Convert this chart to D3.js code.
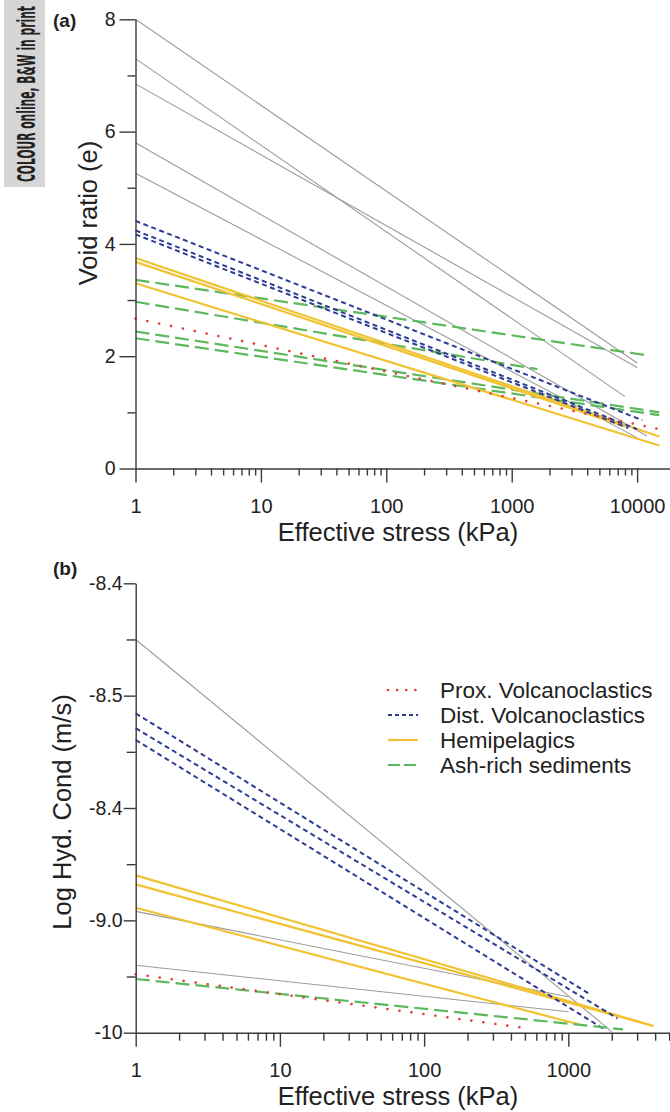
<!DOCTYPE html>
<html><head><meta charset="utf-8">
<script src="https://cdn.jsdelivr.net/npm/d3@7"></script>
<style>
body{margin:0;background:#fff}
svg{display:block}
text{font-family:"Liberation Sans",Arial,Helvetica,sans-serif;fill:#222}
</style>
</head><body>
<svg id="chart" width="670" height="1112"></svg>
<script>
// ---------------- DATA ----------------
// Panel (a): void ratio vs effective stress. Each line: value at 1 kPa, end stress, value at end stress
const xTickValsA = [1, 10, 100, 1000, 10000];
const yTickValsA = [0, 2, 4, 6, 8];
const yTickLabelsA = ["0", "2", "4", "6", "8"];

const greyA_start = [8.0, 7.30, 6.85, 5.80, 5.26];
const greyA_endStress = [10000, 8000, 10000, 12000, 10000];
const greyA_end = [1.88, 1.28, 1.80, 0.58, 0.55];

const blueA_start = [4.41, 4.24, 4.17];
const blueA_endStress = [11000, 10000, 8500];
const blueA_end = [0.86, 0.70, 0.72];

const yellowA_start = [3.75, 3.68, 3.30];
const yellowA_endStress = [15000, 8000, 15000];
const yellowA_end = [0.57, 0.75, 0.41];

const greenA_start = [3.36, 2.97, 2.44, 2.32];
const greenA_endStress = [11750, 1600, 15000, 15000];
const greenA_end = [2.02, 1.77, 1.00, 0.95];

const redA_start = [2.67];
const redA_endStress = [17500];
const redA_end = [0.67];

// Panel (b): log hydraulic conductivity vs effective stress
const xTickValsB = [1, 10, 100, 1000];
const yTickValsB = [-8, -8.5, -9, -9.5, -10];
const yTickLabelsB = ["-8.4", "-8.5", "-8.4", "-9.0", "-10"];

const greyB_start = [-8.25, -9.46, -9.70];
const greyB_endStress = [2000, 1000, 1000];
const greyB_end = [-9.995, -9.84, -9.907];

const blueB_start = [-8.579, -8.645, -8.697];
const blueB_endStress = [1380, 2190, 1800];
const blueB_end = [-9.825, -9.936, -9.987];

const yellowB_start = [-9.30, -9.34, -9.444];
const yellowB_endStress = [3900, 3900, 1230];
const yellowB_end = [-9.97, -9.97, -9.966];

const greenB_start = [-9.761];
const greenB_endStress = [2400];
const greenB_end = [-9.985];

const redB_start = [-9.74];
const redB_endStress = [510];
const redB_end = [-9.98];

const legendLabels = ["Prox. Volcanoclastics", "Dist. Volcanoclastics", "Hemipelagics", "Ash-rich sediments"];
const legendKeys = ["red", "blue", "yellow", "green"];

// ---------------- STYLES ----------------
const styles = {
  grey:   {stroke: "#9b9b9b", width: 1.1, dash: null, cap: "butt"},
  blue:   {stroke: "#2e3d94", width: 2, dash: "5,3.5", cap: "butt"},
  yellow: {stroke: "#f1c232", width: 2.2, dash: null, cap: "butt"},
  green:  {stroke: "#5cb85c", width: 2.2, dash: "14,6", cap: "butt"},
  red:    {stroke: "#e0403a", width: 2.6, dash: "0.1,12", cap: "round"}
};

const svg = d3.select("#chart");

function buildSeries(starts, endStress, ends) {
  return starts.map((s, i) => [[1, s], [endStress[i], ends[i]]]);
}

function minorTicks(maxV) {
  const t = [];
  for (let d = 1; d <= maxV; d *= 10)
    for (let k = 2; k <= 9; k++) if (d * k <= maxV) t.push(d * k);
  return t;
}

function drawPanel(cfg) {
  const g = svg.append("g");
  const x = d3.scaleLog().domain(cfg.xDomain).range(cfg.xRange);
  const y = d3.scaleLinear().domain(cfg.yDomain).range(cfg.yRange);
  const line = d3.line().x(d => x(d[0])).y(d => y(d[1]));

  cfg.series.forEach(s => {
    const st = styles[s.key];
    g.append("g").selectAll("path").data(s.data).join("path")
      .attr("d", line)
      .attr("fill", "none")
      .attr("stroke", st.stroke)
      .attr("stroke-width", st.width)
      .attr("stroke-linecap", st.cap)
      .attr("stroke-dasharray", st.dash);
  });

  const xMinor = d3.axisBottom(x).tickValues(minorTicks(cfg.xDomain[1])).tickSize(cfg.xMinorLen).tickFormat("");
  const gxm = g.append("g").attr("transform", `translate(0,${cfg.yRange[0]})`).call(xMinor);
  gxm.select(".domain").remove();
  const xMajor = d3.axisBottom(x).tickValues(cfg.xTicks).tickSize(cfg.xMajorLen).tickSizeOuter(0)
    .tickPadding(cfg.xPad).tickFormat(d3.format("d"));
  const gx = g.append("g").attr("transform", `translate(0,${cfg.yRange[0]})`).call(xMajor);
  gx.selectAll("text").style("font-size", cfg.xFont + "px").attr("fill", "#222");

  const yMinor = d3.axisLeft(y).tickValues(cfg.yMinor).tickSize(cfg.yMinorLen).tickFormat("");
  const gym = g.append("g").attr("transform", `translate(${cfg.xRange[0]},0)`).call(yMinor);
  gym.select(".domain").remove();
  const yMajor = d3.axisLeft(y).tickValues(cfg.yTicks).tickSize(cfg.yMajorLen).tickSizeOuter(0)
    .tickPadding(cfg.yPad).tickFormat((d, i) => cfg.yLabels[i]);
  const gy = g.append("g").attr("transform", `translate(${cfg.xRange[0]},0)`).call(yMajor);
  gy.selectAll("text").style("font-size", cfg.yFont + "px").attr("fill", "#222");

  g.selectAll(".domain, .tick line").attr("stroke", "#3a3a3a").attr("stroke-width", 1.4);

  g.append("text").attr("x", cfg.xTitlePos[0]).attr("y", cfg.xTitlePos[1])
    .attr("text-anchor", "middle").style("font-size", "25.5px").text("Effective stress (kPa)");
  g.append("text").attr("transform", `translate(${cfg.yTitlePos[0]},${cfg.yTitlePos[1]}) rotate(-90)`)
    .attr("text-anchor", "middle").style("font-size", "25.5px").text(cfg.yTitle);
  g.append("text").attr("x", cfg.tagPos[0]).attr("y", cfg.tagPos[1])
    .style("font-size", "19px").style("font-weight", "bold").text(cfg.tag);
  return {g, x, y};
}

drawPanel({
  xDomain: [1, 18290], xRange: [135.5, 670],
  yDomain: [0, 8], yRange: [468.5, 19.3],
  xTicks: xTickValsA, yTicks: yTickValsA, yLabels: yTickLabelsA, yMinor: [1, 3, 5, 7],
  xMajorLen: 14, xMinorLen: 7, yMajorLen: 16, yMinorLen: 8,
  xPad: 16, yPad: 4, xFont: 20, yFont: 19.5,
  xTitlePos: [398, 541], yTitlePos: [97, 213], yTitle: "Void ratio (e)",
  tagPos: [53, 27], tag: "(a)",
  series: [
    {key: "grey", data: buildSeries(greyA_start, greyA_endStress, greyA_end)},
    {key: "green", data: buildSeries(greenA_start, greenA_endStress, greenA_end)},
    {key: "yellow", data: buildSeries(yellowA_start, yellowA_endStress, yellowA_end)},
    {key: "blue", data: buildSeries(blueA_start, blueA_endStress, blueA_end)},
    {key: "red", data: buildSeries(redA_start, redA_endStress, redA_end)}
  ]
});

drawPanel({
  xDomain: [1, 5070], xRange: [135.7, 670],
  yDomain: [-10, -8], yRange: [1032.7, 583.3],
  xTicks: xTickValsB, yTicks: yTickValsB, yLabels: yTickLabelsB, yMinor: [-8.25, -8.75, -9.25, -9.75],
  xMajorLen: 14, xMinorLen: 8, yMajorLen: 12, yMinorLen: 9,
  xPad: 16, yPad: 1, xFont: 20, yFont: 19.5,
  xTitlePos: [398, 1105], yTitlePos: [70.5, 812], yTitle: "Log Hyd. Cond (m/s)",
  tagPos: [53, 575], tag: "(b)",
  series: [
    {key: "grey", data: buildSeries(greyB_start, greyB_endStress, greyB_end)},
    {key: "yellow", data: buildSeries(yellowB_start, yellowB_endStress, yellowB_end)},
    {key: "blue", data: buildSeries(blueB_start, blueB_endStress, blueB_end)},
    {key: "green", data: buildSeries(greenB_start, greenB_endStress, greenB_end)},
    {key: "red", data: buildSeries(redB_start, redB_endStress, redB_end)}
  ]
});

// legend
const leg = svg.append("g");
legendKeys.forEach((k, i) => {
  const st = styles[k];
  const yy = 690 + i * 25;
  leg.append("line").attr("x1", 388).attr("x2", 418).attr("y1", yy).attr("y2", yy)
    .attr("stroke", st.stroke).attr("stroke-width", st.width)
    .attr("stroke-dasharray", k === "red" ? "0.1,9" : (k === "blue" ? "4,3" : (k === "green" ? "12,4" : null)))
    .attr("stroke-linecap", st.cap);
  leg.append("text").attr("x", 440).attr("y", yy + 8).style("font-size", "22.5px").text(legendLabels[i]);
});

// side band
svg.append("rect").attr("x", 4).attr("y", 0).attr("width", 41).attr("height", 187).attr("fill", "#d6d6d6");
const band = svg.append("g").attr("transform", "translate(35,182) rotate(-90)");
const bandText = band.append("text").attr("x", 0).attr("y", 0)
  .style("font-family", "'DejaVu Sans Condensed','DejaVu Sans',sans-serif").style("font-weight", "bold")
  .style("font-size", "25px").attr("fill", "#2a2a2a").text("COLOUR online, B&W in print");
const natural = bandText.node().getComputedTextLength();
bandText.attr("transform", `scale(${176 / natural},1)`);
</script>
</body></html>
